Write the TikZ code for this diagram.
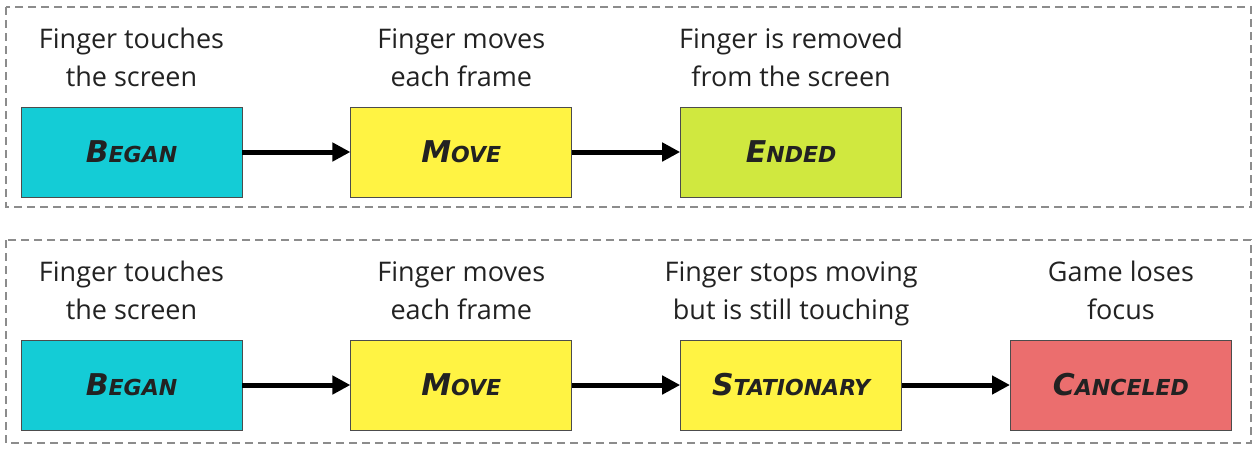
\documentclass[tikz,border=0pt]{standalone}
\usepackage{fontspec}
\setmainfont{Open Sans}
\newfontfamily\markfont{DejaVu Sans}
\usetikzlibrary{positioning,arrows.meta}

\definecolor{beganc}{HTML}{14CCD6}
\definecolor{movec}{HTML}{FFF343}
\definecolor{endedc}{HTML}{D0E83F}
\definecolor{cancelc}{HTML}{EB6E6E}
\definecolor{framec}{HTML}{8C8C8C}
\definecolor{inkc}{HTML}{222222}

% first letter big, the rest in smaller capitals
\newcommand{\phasename}[2]{{\markfont\bfseries\itshape
  {\fontsize{30}{30}\selectfont #1}{\fontsize{22}{22}\selectfont #2}}}

\tikzset{
  phase/.style={draw=black!70, line width=0.8pt, minimum width=221pt,
    minimum height=90pt, inner sep=0pt, text=inkc},
  desc/.style={align=center, inner sep=0pt, text depth=0pt, text=inkc,
    font=\fontsize{27}{38}\selectfont},
  trans/.style={line width=5pt, -{Triangle[length=18pt,width=18pt]}},
  frame/.style={draw=framec, line width=1.2pt, dash pattern=on 8pt off 5pt}
}

\begin{document}
\begin{tikzpicture}[x=1pt,y=-1pt, node distance=108pt]
        \useasboundingbox (0,0) rectangle (1257,451);
        % the two frames
        \draw [frame] (6,7) rectangle (1251,207);
        \draw [frame] (6,240) rectangle (1251,443);

        % first row
        \node [phase, fill=beganc] (began) at (131.5,152) {\phasename{B}{EGAN}};
        \node [phase, fill=movec, right=of began] (move) {\phasename{M}{OVE}};
        \node [phase, fill=endedc, right=of move] (ended) {\phasename{E}{NDED}};
        \node [desc, above=20pt of began] (beganT) {Finger touches\\the screen};
        \node [desc, above=20pt of move] (moveT) {Finger moves\\each frame};
        \node [desc, above=20pt of ended] (endedT) {Finger is removed\\from the screen};
        \draw [trans] (began) -- (move);
        \draw [trans] (move) -- (ended);

        % second row
        \node [phase, fill=beganc] (began2) at (131.5,385) {\phasename{B}{EGAN}};
        \node [phase, fill=movec, right=of began2] (move2) {\phasename{M}{OVE}};
        \node [phase, fill=movec, right=of move2] (stat) {\phasename{S}{TATIONARY}};
        \node [phase, fill=cancelc, right=of stat] (cancel) {\phasename{C}{ANCELED}};
        \node [desc, above=20pt of began2] (began2T) {Finger touches\\the screen};
        \node [desc, above=20pt of move2] (move2T) {Finger moves\\each frame};
        \node [desc, above=20pt of stat] (statT) {Finger stops moving\\but is still touching};
        \node [desc, above=20pt of cancel] (cancelT) {Game loses\\focus};
        \draw [trans] (began2) -- (move2);
        \draw [trans] (move2) -- (stat);
        \draw [trans] (stat) -- (cancel);
    \end{tikzpicture}
\end{document}
